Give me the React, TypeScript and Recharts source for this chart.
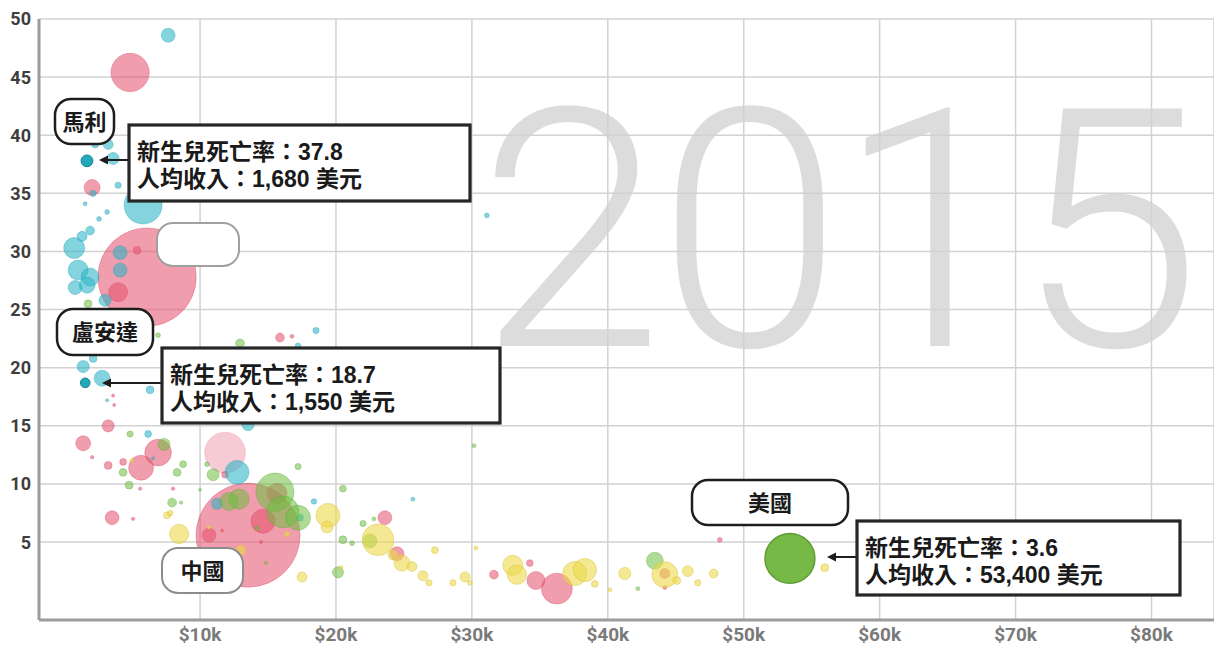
import React from "react";
import { ScatterChart, Scatter, XAxis, YAxis, ZAxis, CartesianGrid } from "recharts";

// [income per person (US$), neonatal mortality (per 1,000), population (millions)]
const asia: [number, number, number][] = [
  [4850, 45.4, 190], [2060, 35.5, 33], [6100, 27.8, 1250], [3970, 26.5, 47], [5370, 30.1, 8],
  [15880, 22.6, 10], [16760, 22.7, 2], [3240, 15.0, 19], [1400, 13.5, 29], [6910, 12.7, 92],
  [5660, 11.4, 80], [2060, 12.3, 1.5], [3240, 11.6, 8], [4340, 11.9, 6], [5590, 9.6, 1.5],
  [8010, 9.6, 1.5], [3530, 7.1, 25], [5070, 7.0, 1.5], [11840, 10.8, 6], [13530, 5.6, 1400],
  [14630, 6.8, 74], [10660, 5.6, 25], [11620, 6.0, 1.2], [14490, 5.0, 1.2], [15660, 9.2, 52],
  [23600, 7.1, 25], [24490, 4.0, 25], [31620, 2.2, 10], [34260, 3.2, 6], [34710, 1.7, 42],
  [36250, 1.0, 124], [44190, 2.3, 13], [44190, 1.1, 2], [48240, 5.2, 3], [3680, 16.8, 1.2],
  [3600, 17.6, 1.2],
];
const asiaFaded: [number, number, number][] = [[11840, 12.7, 215]];

const africa: [number, number, number][] = [
  [7650, 48.6, 25], [3240, 39.2, 13], [2280, 39.2, 6], [3600, 38.0, 19], [3970, 35.7, 5],
  [2130, 35.0, 5], [5810, 34.0, 187], [1540, 34.1, 2], [3160, 33.4, 3], [2570, 32.8, 3],
  [1910, 31.8, 10], [1320, 31.3, 13], [740, 30.3, 57], [4120, 29.9, 25], [4120, 28.4, 25],
  [1030, 28.4, 52], [1910, 27.8, 42], [810, 26.9, 25], [1690, 27.1, 33], [3010, 25.8, 19],
  [2130, 20.8, 8], [1400, 20.1, 19], [2790, 19.1, 33], [6320, 18.1, 8], [3160, 17.2, 1.2],
  [18530, 23.2, 5], [17210, 21.9, 4], [13530, 15.1, 19], [6180, 14.3, 6], [6540, 12.2, 1.2],
  [12720, 11.0, 74], [11250, 8.3, 16], [17350, 7.1, 6], [18380, 8.5, 4], [25660, 8.7, 2],
  [31100, 33.1, 3],
];

const americas: [number, number, number][] = [
  [1760, 25.5, 8], [6910, 22.8, 3], [12940, 22.1, 10], [4850, 14.3, 5], [7350, 13.4, 19],
  [8750, 11.7, 6], [8310, 11.0, 8], [4340, 11.0, 8], [4780, 9.9, 8], [10000, 9.5, 1],
  [7940, 8.4, 10], [8600, 8.4, 1.5], [10510, 11.7, 3], [10960, 10.8, 19], [12130, 8.5, 42],
  [12870, 8.7, 52], [15510, 9.3, 187], [16100, 7.6, 132], [17210, 7.1, 80], [14190, 6.2, 3],
  [14850, 3.2, 1.2], [17210, 11.5, 5], [20510, 9.6, 6], [20510, 5.2, 8], [21180, 4.9, 3],
  [20150, 2.4, 16], [22500, 5.1, 25], [21990, 6.6, 5], [22790, 7.0, 2], [30150, 13.3, 2],
  [42210, 1.0, 2], [43460, 3.4, 37],
];

const europe: [number, number, number][] = [
  [7570, 7.3, 6], [7790, 7.5, 4], [5000, 12.0, 2], [8460, 5.7, 48], [10660, 6.3, 2],
  [13010, 4.3, 13], [16400, 5.7, 4], [17500, 2.0, 13], [19410, 7.3, 74], [19340, 6.3, 19],
  [20370, 2.8, 2], [23090, 5.2, 130], [24190, 3.9, 13], [24850, 3.2, 33], [25590, 2.9, 13],
  [26400, 2.1, 13], [26840, 1.5, 5], [27280, 4.3, 6], [28600, 1.5, 5], [29490, 2.0, 13],
  [29850, 1.5, 3], [30290, 4.5, 2], [33010, 3.0, 52], [33310, 2.2, 48], [37570, 2.3, 75],
  [38310, 2.6, 70], [39040, 1.4, 6], [40150, 0.9, 2], [41250, 2.3, 19], [44190, 2.2, 87],
  [45070, 1.7, 8], [45880, 2.5, 15], [46620, 1.5, 5], [47790, 2.3, 10], [55960, 2.8, 8],
];

// highlighted countries
const mali: [number, number, number][] = [[1680, 37.8, 18]];
const rwanda: [number, number, number][] = [[1550, 18.7, 12]];
const usa: [number, number, number][] = [[53400, 3.6, 322]];

const xTicks = [10000, 20000, 30000, 40000, 50000, 60000, 70000, 80000];
const yTicks = [5, 10, 15, 20, 25, 30, 35, 40, 45, 50];
const year = "2015";

const toPoints = (rows: [number, number, number][]) =>
  rows
    .map(([x, y, z]) => ({ x, y, z }))
    .sort((a, b) => b.z - a.z);

const CJK = "'Liberation Sans', 'Noto Sans CJK TC', sans-serif";

const RoundLabel = ({ x, y, w, h, text, stroke = "#1e1e1e", sw = 2.5 }: any) => (
  <g>
    <rect x={x} y={y} width={w} height={h} rx={16} fill="#fff" stroke={stroke} strokeWidth={sw} />
    {text ? (
      <text
        x={x + w / 2}
        y={y + h / 2 + 8}
        textAnchor="middle"
        fontFamily={CJK}
        fontWeight={700}
        fontSize={22}
        fill="#1a1a1a"
      >
        {text}
      </text>
    ) : null}
  </g>
);

const InfoBox = ({ x, y, w, h, row, tipX, tipY }: any) => {
  const [inc, mort] = row;
  return (
    <g>
      <line x1={x} y1={tipY} x2={tipX + 7} y2={tipY} stroke="#1e1e1e" strokeWidth={2} />
      <polygon points={`${tipX},${tipY} ${tipX + 9},${tipY - 4.5} ${tipX + 9},${tipY + 4.5}`} fill="#1e1e1e" />
      <rect x={x} y={y} width={w} height={h} fill="#fff" stroke="#262626" strokeWidth={3.2} />
      <text x={x + 8} y={y + 35} fontFamily={CJK} fontWeight={700} fontSize={23} fill="#1a1a1a">
        新生兒死亡率：{mort}
      </text>
      <text x={x + 8} y={y + 62} fontFamily={CJK} fontWeight={700} fontSize={23} fill="#1a1a1a">
        人均收入：{inc.toLocaleString("en-US")} 美元
      </text>
    </g>
  );
};

const tickFont = "Roboto, 'Liberation Sans', sans-serif";

export default function App() {
  return (
    <div style={{ position: "absolute", left: 0, top: 0, width: 1214, height: 646, background: "#fff" }}>
      <svg width={1214} height={646} style={{ position: "absolute", left: 0, top: 0 }}>
        <text
          x={478}
          y={346}
          fontFamily="Roboto, sans-serif"
          fontWeight={300}
          fontSize={334}
          letterSpacing={-6}
          fill="#dcdcdc"
        >
          {year}
        </text>
      </svg>
      <div style={{ position: "absolute", left: 0, top: 0 }}>
        <ScatterChart width={1214} height={646} margin={{ top: 19, right: 0, bottom: 0, left: 0 }}>
          <CartesianGrid stroke="#d2d2d2" strokeWidth={1.5} />
          <XAxis
            type="number"
            dataKey="x"
            domain={[-1850, 84600]}
            ticks={xTicks}
            allowDataOverflow
            height={26}
            tickLine={false}
            axisLine={{ stroke: "#9c9c9c", strokeWidth: 3 }}
            tick={{ fill: "#7a7a7a", fontSize: 19, fontWeight: 700, fontFamily: tickFont }}
            tickFormatter={(v: number) => `$${v / 1000}k`}
          />
          <YAxis
            type="number"
            dataKey="y"
            domain={[-1.7, 50]}
            ticks={yTicks}
            allowDataOverflow
            width={39}
            tickLine={false}
            axisLine={{ stroke: "#9c9c9c", strokeWidth: 3 }}
            tick={{ fill: "#3e3e3e", fontSize: 18, fontWeight: 700, fontFamily: tickFont }}
          />
          <ZAxis type="number" dataKey="z" domain={[0, 1400]} range={[0, 8500]} />
          <Scatter data={toPoints(asiaFaded)} fill="#e5536f" fillOpacity={0.3} stroke="#e5536f" strokeOpacity={0.2} isAnimationActive={false} />
          <Scatter data={toPoints(asia)} fill="#e5536f" fillOpacity={0.57} stroke="#d84862" strokeOpacity={0.35} isAnimationActive={false} />
          <Scatter data={toPoints(africa)} fill="#2bb5c8" fillOpacity={0.58} stroke="#1e9fb2" strokeOpacity={0.35} isAnimationActive={false} />
          <Scatter data={toPoints(americas)} fill="#6dbd3f" fillOpacity={0.55} stroke="#5aa630" strokeOpacity={0.35} isAnimationActive={false} />
          <Scatter data={toPoints(europe)} fill="#ecd94a" fillOpacity={0.6} stroke="#d8c23a" strokeOpacity={0.45} isAnimationActive={false} />
          <Scatter data={toPoints(mali)} fill="#17a3b6" fillOpacity={0.95} stroke="#0e8697" isAnimationActive={false} />
          <Scatter data={toPoints(rwanda)} fill="#17a3b6" fillOpacity={0.95} stroke="#0e8697" isAnimationActive={false} />
          <Scatter data={toPoints(usa)} fill="#77b947" fillOpacity={1} stroke="#5f9c35" strokeWidth={1.5} isAnimationActive={false} />
        </ScatterChart>
      </div>
      <svg width={1214} height={646} style={{ position: "absolute", left: 0, top: 0, pointerEvents: "none" }}>
        <RoundLabel x={55} y={99} w={59} h={45} text="馬利" />
        <InfoBox x={129} y={125} w={341} h={76} row={mali[0]} tipX={99} tipY={160} />
        <RoundLabel x={157} y={223} w={82} h={43} stroke="#a0a0a0" sw={2} />
        <RoundLabel x={57} y={309} w={96} h={46} text="盧安達" />
        <InfoBox x={162} y={348} w={338} h={75} row={rwanda[0]} tipX={102} tipY={383} />
        <RoundLabel x={162} y={548} w={81} h={45} text="中國" stroke="#8c8c8c" sw={2} />
        <RoundLabel x={692} y={480} w={156} h={45} text="美國" />
        <InfoBox x={857} y={521} w={323} h={74} row={usa[0]} tipX={827} tipY={557} />
      </svg>
    </div>
  );
}
